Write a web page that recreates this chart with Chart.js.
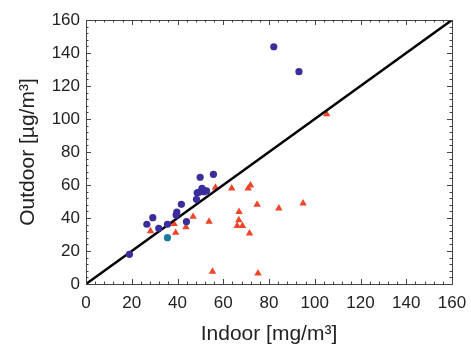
<!DOCTYPE html>
<html>
<head>
<meta charset="utf-8">
<script src="https://cdn.jsdelivr.net/npm/chart.js@4"></script>
<style>
  html, body { margin: 0; padding: 0; background: #fff; }
  #wrap { width: 471px; height: 351px; }
</style>
</head>
<body>
<div id="wrap"><canvas id="chart" width="471" height="351"></canvas></div>
<script>
// --- DATA ---
const circleIndoor  = [19, 26.6, 29.2, 31.8, 35.6, 39.4, 39.7, 41.7, 43.9, 48.3, 48.6, 49.3, 49.9, 50.7, 51.5, 52.7, 55.7, 82.1, 93.1];
const circleOutdoor = [18, 36.2, 40.2, 33.8, 36.2, 41.8, 43.6, 48.3, 37.8, 51.3, 55.3, 55.6, 64.7, 58.0, 55.9, 56.4, 66.5, 143.8, 128.7];

const tealIndoor  = [35.6];
const tealOutdoor = [28.1];

const triIndoor  = [28.2, 38.5, 39.2, 43.7, 46.8, 53.8, 56.6, 55.3, 63.7, 66.9, 66.8, 66.1, 68.4, 70.9, 71.9, 71.5, 74.8, 75.2, 84.3, 94.9, 105.2];
const triOutdoor = [32.1, 36.4, 31.1, 34.5, 40.8, 37.8, 58.4, 7.5, 58.0, 43.8, 38.8, 35.2, 35.2, 58.0, 59.8, 30.7, 48.1, 6.5, 45.9, 48.9, 103.0];

const oneToOne = [0, 160];

const tickValues = [0, 20, 40, 60, 80, 100, 120, 140, 160];

const toPoints = (xs, ys) => xs.map((x, i) => ({ x: x, y: ys[i] }));

// --- FRAME + INWARD TICKS ---
const framePlugin = {
  id: 'frame',
  afterDraw(chart) {
    const { ctx, chartArea: a, scales: { x, y } } = chart;
    ctx.save();
    ctx.strokeStyle = '#444';
    ctx.lineWidth = 1;
    ctx.strokeRect(a.left + 0.5, a.top + 0.5, a.right - a.left, a.bottom - a.top);
    ctx.beginPath();
    for (let v = 0; v <= 160; v += 4) {
      const len = v % 20 === 0 ? 5 : 2.5;
      const px = Math.round(x.getPixelForValue(v)) + 0.5;
      ctx.moveTo(px, a.bottom); ctx.lineTo(px, a.bottom - len);
      ctx.moveTo(px, a.top);    ctx.lineTo(px, a.top + len);
      const py = Math.round(y.getPixelForValue(v)) + 0.5;
      ctx.moveTo(a.left, py);  ctx.lineTo(a.left + len, py);
      ctx.moveTo(a.right, py); ctx.lineTo(a.right - len, py);
    }
    ctx.stroke();
    ctx.restore();
  }
};

Chart.defaults.font.family = '"Liberation Sans", Arial, sans-serif';
Chart.defaults.color = '#222';

new Chart(document.getElementById('chart'), {
  type: 'scatter',
  data: {
    datasets: [
      {
        label: 'circles',
        data: toPoints(circleIndoor, circleOutdoor),
        pointStyle: 'circle',
        pointRadius: 3.6,
        backgroundColor: '#3a2d9c',
        borderColor: '#3a2d9c',
        borderWidth: 0
      },
      {
        label: 'teal',
        data: toPoints(tealIndoor, tealOutdoor),
        pointStyle: 'circle',
        pointRadius: 3.6,
        backgroundColor: '#1d7a9c',
        borderColor: '#1d7a9c',
        borderWidth: 0
      },
      {
        label: '1:1',
        data: toPoints(oneToOne, oneToOne),
        showLine: true,
        borderColor: '#000',
        borderWidth: 2.5,
        pointRadius: 0
      },
      {
        label: 'triangles',
        data: toPoints(triIndoor, triOutdoor),
        pointStyle: 'triangle',
        pointRadius: 4.3,
        backgroundColor: '#f0452a',
        borderColor: '#f0452a',
        borderWidth: 0
      }
    ]
  },
  options: {
    responsive: false,
    animation: false,
    layout: { padding: { left: 8, right: 19, top: 20, bottom: 4 } },
    plugins: { legend: { display: false }, tooltip: { enabled: false } },
    scales: {
      x: {
        type: 'linear',
        min: 0, max: 160,
        afterBuildTicks: s => { s.ticks = tickValues.map(v => ({ value: v })); },
        afterFit: s => { s.height = 63; s.paddingRight = 0; s.paddingLeft = 0; },
        grid: { display: false, drawTicks: false },
        border: { display: false },
        ticks: { padding: 9, font: { size: 17 }, maxRotation: 0 },
        title: { display: true, text: 'Indoor [mg/m³]', font: { size: 21 }, padding: { top: 8, bottom: 0 } }
      },
      y: {
        type: 'linear',
        min: 0, max: 160,
        afterBuildTicks: s => { s.ticks = tickValues.map(v => ({ value: v })); },
        afterFit: s => { s.width = 78; s.paddingTop = 0; s.paddingBottom = 0; },
        grid: { display: false, drawTicks: false },
        border: { display: false },
        ticks: { padding: 6, font: { size: 17 } },
        title: { display: true, text: 'Outdoor [µg/m³]', font: { size: 21 }, padding: { top: 8, bottom: 0 } }
      }
    }
  },
  plugins: [framePlugin]
});
</script>
</body>
</html>
